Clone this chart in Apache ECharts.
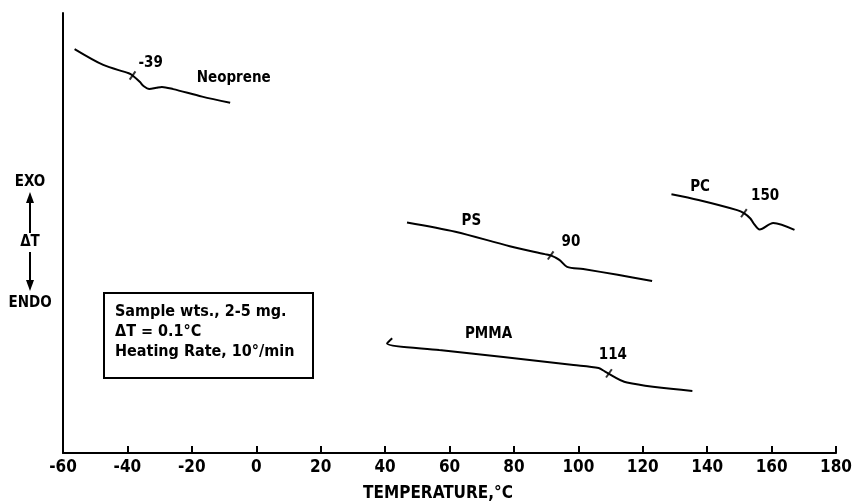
<!DOCTYPE html>
<html>
<head>
<meta charset="utf-8">
<script src="https://cdn.jsdelivr.net/npm/echarts@6/dist/echarts.min.js"></script>
<style>
    html, body { margin: 0; background: #fff; }
    #main { width: 855px; height: 504px; }
</style>
</head>
<body>
<div id="main"></div>
<script>
// DTA traces, temperature (°C) vs. relative ΔT (arbitrary units 0-100)
var neoprene = [[-56.4, 91.8], [-47.5, 88.2], [-39.6, 86.3], [-38.4, 85.8], [-36.1, 84.3], [-35.0, 83.4],
    [-33.2, 82.7], [-31.0, 83.0], [-29.3, 83.2], [-25.8, 82.7], [-16.8, 81.0], [-8.1, 79.6]];
var ps = [[46.8, 52.4], [61.8, 50.3], [78.7, 47.0], [89.6, 45.2], [91.4, 44.9], [94.1, 43.9],
    [96.5, 42.3], [101.5, 41.8], [112.2, 40.5], [122.9, 39.1]];
var pc = [[128.9, 58.8], [137.3, 57.5], [149.3, 55.2], [151.4, 54.5], [153.4, 53.3], [154.4, 52.2],
    [156.3, 50.8], [160.5, 52.3], [167.1, 50.7]];
var pmma = [[42.2, 26.1], [40.6, 24.9], [56.8, 23.4], [76.7, 21.8], [98.5, 20.0], [106.3, 19.3],
    [108.3, 18.5], [115.1, 16.0], [135.4, 14.1]];

// glass transition flags on each trace
var tgPoints = [[-38.4, 85.8], [91.4, 44.9], [151.4, 54.5], [109.5, 18.1]];

// text next to the traces
var noteText = ['-39', 'Neoprene', 'PS', '90', 'PC', '150', 'PMMA', '114'];
var noteX = [-32.8, -7.0, 66.8, 97.7, 137.8, 158.0, 72.1, 110.7];
var noteY = [88.6, 85.2, 52.6, 48.0, 60.5, 58.3, 27.0, 22.3];

var boxLines = ['Sample wts., 2-5 mg.', 'ΔT = 0.1°C', 'Heating Rate, 10°/min'];

var FONT = '"DejaVu Sans Condensed", "DejaVu Sans", sans-serif';

var chartDom = document.getElementById('main');
var myChart = echarts.init(chartDom);
var option;

function trace(name, data) {
    return {
        name: name,
        type: 'line',
        data: data,
        smooth: 0.3,
        showSymbol: false,
        lineStyle: { color: '#000', width: 2 },
        silent: true
    };
}

function txt(t, x, y, size, align) {
    return { type: 'text', style: { text: t, x: x, y: y, align: align || 'center', verticalAlign: 'middle',
        font: 'bold ' + size + 'px ' + FONT, fill: '#000' } };
}

var graphics = [
    txt('TEMPERATURE,°C', 438, 494, 17),
    txt('EXO', 30, 182, 15),
    txt('ΔT', 30, 242, 15),
    txt('ENDO', 30, 303, 15),
    { type: 'line', shape: { x1: 30, y1: 233, x2: 30, y2: 200 }, style: { stroke: '#000', lineWidth: 2 } },
    { type: 'polygon', shape: { points: [[30, 192], [26, 203], [34, 203]] }, style: { fill: '#000' } },
    { type: 'line', shape: { x1: 30, y1: 252, x2: 30, y2: 283 }, style: { stroke: '#000', lineWidth: 2 } },
    { type: 'polygon', shape: { points: [[30, 291], [26, 280], [34, 280]] }, style: { fill: '#000' } },
    { type: 'rect', shape: { x: 104, y: 293, width: 209, height: 85 }, style: { fill: '#fff', stroke: '#000', lineWidth: 2 } }
];
boxLines.forEach(function (t, i) {
    graphics.push(txt(t, 115, 312 + i * 20, 16, 'left'));
});

option = {
    animation: false,
    backgroundColor: '#fff',
    grid: { left: 63, right: 14, top: 13, bottom: 51 },
    xAxis: {
        type: 'value',
        min: -60,
        max: 180,
        interval: 20,
        axisLine: { show: true, onZero: false, lineStyle: { color: '#000', width: 2 } },
        axisTick: { show: true, inside: true, length: 7, lineStyle: { color: '#000', width: 2 } },
        axisLabel: { color: '#000', fontSize: 17, fontWeight: 'bold', fontFamily: FONT, margin: 6 },
        splitLine: { show: false }
    },
    yAxis: {
        type: 'value',
        min: 0,
        max: 100,
        axisLine: { show: true, onZero: false, lineStyle: { color: '#000', width: 2 } },
        axisTick: { show: false },
        axisLabel: { show: false },
        splitLine: { show: false }
    },
    series: [
        trace('Neoprene', neoprene),
        trace('PS', ps),
        trace('PC', pc),
        trace('PMMA', pmma),
        {
            name: 'Tg',
            type: 'scatter',
            data: tgPoints,
            symbol: 'rect',
            symbolSize: [2, 10],
            symbolRotate: -35,
            itemStyle: { color: '#000' },
            silent: true
        }
    ],
    graphic: graphics
};

option && myChart.setOption(option);

// place the trace labels through the axes' own scales
noteText.forEach(function (t, i) {
    var p = myChart.convertToPixel({ gridIndex: 0 }, [noteX[i], noteY[i]]);
    graphics.push(txt(t, p[0], p[1], 15));
});
myChart.setOption({ graphic: graphics });
</script>
</body>
</html>
